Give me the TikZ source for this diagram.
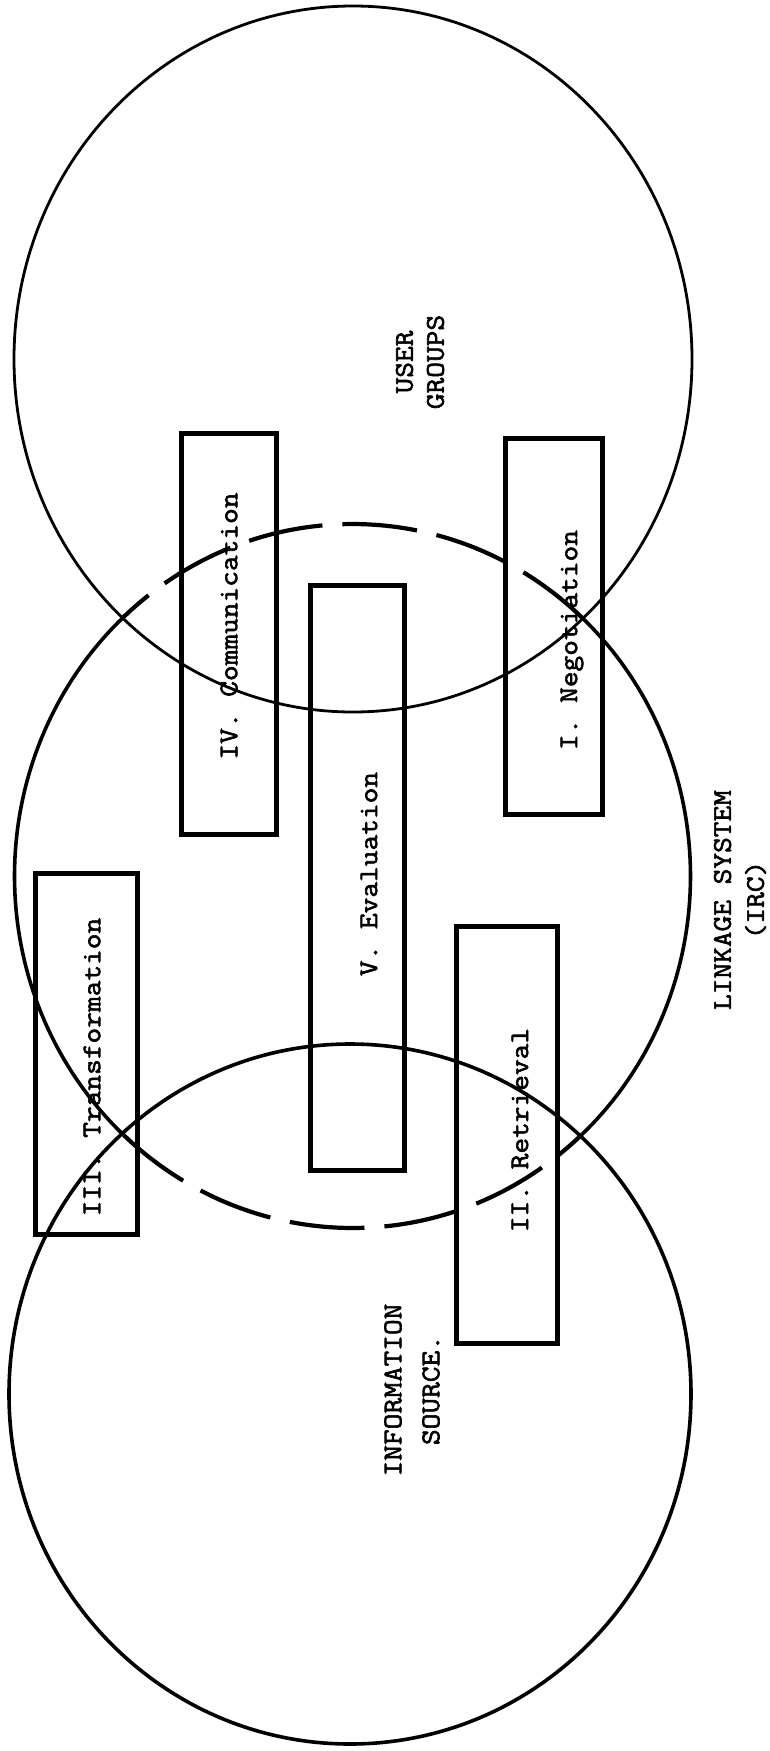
\documentclass[tikz,border=0pt]{standalone}
\usepackage{fontspec}
\newfontfamily\twfont{Latin Modern Mono}[FakeBold=2.2, FakeStretch=1.13]
\usetikzlibrary{calc}
\begin{document}
\begin{tikzpicture}[x=1pt,y=-1pt,
  stagebox/.style={draw, line width=5pt, inner sep=0pt, outer sep=0pt},
  txt/.style={font=\twfont\fontsize{27}{31}\selectfont, inner sep=0pt, rotate=90, align=center},
  ring/.style={line width=3.6pt},
  thinring/.style={line width=2.8pt},
  dashring/.style={line width=4.2pt, dash pattern=on 75pt off 20pt}]
\fill[white] (0,0) rectangle (769,1751);
\useasboundingbox (0,0) rectangle (769,1751);
% circle centres
\coordinate (userc) at (353,359);
\coordinate (linkc) at (352.5,876);
\coordinate (infoc) at (350,1394);
% user groups circle
\draw[thinring] (userc) ellipse [x radius=339pt, y radius=353pt];
% information source circle
\draw[ring] (infoc) ellipse [x radius=341pt, y radius=350pt];
% linkage system circle: solid outside, dashed inside the others
\draw[ring] ($(linkc)+(-47.4:338pt and 352pt)$) arc[start angle=-47.4, end angle=47.1, x radius=338pt, y radius=352pt];
\draw[dashring] ($(linkc)+(47.1:338pt and 352pt)$) arc[start angle=47.1, end angle=132.9, x radius=338pt, y radius=352pt];
\draw[ring] ($(linkc)+(132.9:338pt and 352pt)$) arc[start angle=132.9, end angle=227.4, x radius=338pt, y radius=352pt];
\draw[dashring] ($(linkc)+(227.4:338pt and 352pt)$) arc[start angle=227.4, end angle=312.6, x radius=338pt, y radius=352pt];
% boxes
\node[stagebox, minimum width=95pt, minimum height=401pt] (comm) at (228.5,633.5) {};
\node[stagebox, minimum width=97pt, minimum height=376pt] (nego) at (553.5,626) {};
\node[stagebox, minimum width=94pt, minimum height=585pt] (eval) at (357,877.5) {};
\node[stagebox, minimum width=102pt, minimum height=361pt] (trans) at (86,1053.5) {};
\node[stagebox, minimum width=101pt, minimum height=417pt] (retr) at (506.5,1134.5) {};
% box texts
\node[txt] (commt) at (229,626) {IV. Communication};
\node[txt] (negot) at (572,640) {I. Negotiation};
\node[txt] (evalt) at (369,874) {V. Evaluation};
\node[txt] (transt) at (92,1067) {III. Transformation};
\node[txt] (retrt) at (520,1130) {II. Retrieval};
% circle labels
\node[txt] (userl) at (420,362) {USER\\GROUPS};
\node[txt, font=\twfont\fontsize{27}{33}\selectfont] (linkl) at (740,900) {LINKAGE SYSTEM\\(IRC)};
\node[txt, font=\twfont\fontsize{27}{38}\selectfont] (infol) at (412,1390) {INFORMATION\\SOURCE.};
\end{tikzpicture}
\end{document}
